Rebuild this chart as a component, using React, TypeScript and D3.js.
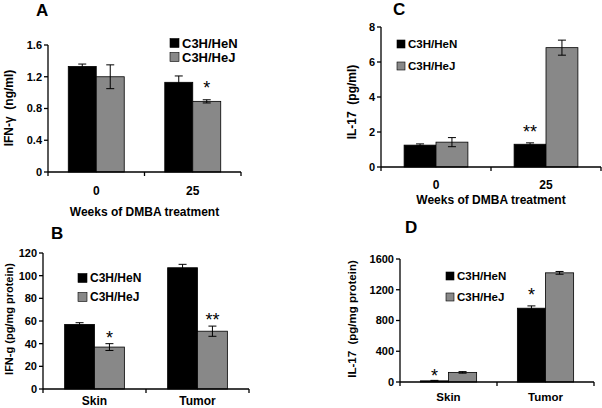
import React from "react";
import * as d3 from "d3";

const seriesNames = ["C3H/HeN", "C3H/HeJ"];
const seriesColors = ["#000000", "#888888"];

const weekCategories = ["0", "25"];
const tissueCategories = ["Skin", "Tumor"];

// Panel A: IFN-γ (ng/ml)
const aHeN = [1.33, 1.13];
const aHeJ = [1.2, 0.89];
const aHeNErr = [0.03, 0.08];
const aHeJErr = [0.15, 0.02];
const aTicks = [0, 0.4, 0.8, 1.2, 1.6];

// Panel C: IL-17 (pg/ml)
const cHeN = [1.25, 1.3];
const cHeJ = [1.42, 6.82];
const cHeNErr = [0.07, 0.08];
const cHeJErr = [0.26, 0.43];
const cTicks = [0, 2, 4, 6, 8];

// Panel B: IFN-g (pg/mg protein)
const bHeN = [57, 107];
const bHeJ = [37, 51];
const bHeNErr = [1.5, 3];
const bHeJErr = [3, 4.5];
const bTicks = [0, 20, 40, 60, 80, 100, 120];

// Panel D: IL-17 (pg/mg protein)
const dHeN = [15, 960];
const dHeJ = [125, 1420];
const dHeNErr = [6, 30];
const dHeJErr = [10, 18];
const dTicks = [0, 400, 800, 1200, 1600];

// significance marks: [category index, series index, label]
const aStars: [number, number, string][] = [[1, 1, "*"]];
const cStars: [number, number, string][] = [[1, 0, "**"]];
const bStars: [number, number, string][] = [[0, 1, "*"], [1, 1, "**"]];
const dStars: [number, number, string][] = [[0, 0, "*"], [1, 0, "*"]];

const FONT = "'Liberation Sans', Arial, Helvetica, sans-serif";

type PanelProps = {
  letter: string;
  letterX: number;
  letterY: number;
  left: number;
  right: number;
  top: number;
  bottom: number;
  categories: string[];
  values: number[][];
  errors: number[][];
  ticks: number[];
  tickFmt: (v: number) => string;
  yTitle: string;
  yTitleX: number;
  yTitleY: number;
  yTitleSize: number;
  xTitle?: string;
  xTitleY?: number;
  xLabelY: number;
  xLabelSize: number;
  legendX: number;
  legendY: number[];
  legendSize: number;
  legendSwatch: number;
  stars: [number, number, string][];
  starGaps: number[];
};

function Panel(p: PanelProps) {
  const yMax = p.ticks[p.ticks.length - 1];
  const y = d3.scaleLinear().domain([0, yMax]).range([p.bottom, p.top]);
  const xBand = d3.scaleBand<string>().domain(p.categories).range([p.left, p.right]).padding(0);
  const pairW = xBand.bandwidth() * 0.58;
  const inner = d3.scaleBand<number>().domain([0, 1]).range([0, pairW]).padding(0);
  const barX = (ci: number, si: number) =>
    (xBand(p.categories[ci]) as number) + (xBand.bandwidth() - pairW) / 2 + (inner(si) as number);
  const bw = inner.bandwidth();
  const cap = 4;
  const axisW = 1.3;

  const xTickPositions = [p.left, ...p.categories.slice(1).map((c) => xBand(c) as number), p.right];

  return (
    <g fontFamily={FONT} fontWeight="bold">
      <text x={p.letterX} y={p.letterY} fontSize={17}>{p.letter}</text>
      {p.values.map((vals, si) =>
        vals.map((v, ci) => (
          <rect
            key={`b${si}-${ci}`}
            x={barX(ci, si)}
            y={y(v)}
            width={bw}
            height={p.bottom - y(v)}
            fill={seriesColors[si]}
            stroke="#000"
            strokeWidth={0.8}
          />
        ))
      )}
      {p.values.map((vals, si) =>
        vals.map((v, ci) => {
          const cx = barX(ci, si) + bw / 2;
          const e = p.errors[si][ci];
          const y1 = y(v + e);
          const y0 = y(Math.max(0, v - e));
          return (
            <g key={`e${si}-${ci}`} stroke="#000" strokeWidth={1}>
              <line x1={cx} x2={cx} y1={y1} y2={y0} />
              <line x1={cx - cap} x2={cx + cap} y1={y1} y2={y1} />
              <line x1={cx - cap} x2={cx + cap} y1={y0} y2={y0} />
            </g>
          );
        })
      )}
      {p.stars.map(([ci, si, lab], i) => {
        const cx = barX(ci, si) + bw / 2;
        const top = y(p.values[si][ci] + p.errors[si][ci]);
        return (
          <text key={`s${i}`} x={cx} y={top - p.starGaps[i] + 9} fontSize={18} textAnchor="middle" fontWeight="normal">
            {lab}
          </text>
        );
      })}
      <line x1={p.left} x2={p.left} y1={p.top} y2={p.bottom} stroke="#000" strokeWidth={axisW} />
      {p.ticks.map((t) => (
        <g key={`t${t}`}>
          <line x1={p.left - 4} x2={p.left} y1={y(t)} y2={y(t)} stroke="#000" strokeWidth={axisW} />
          <text x={p.left - 6} y={y(t)} dy="0.36em" fontSize={11} textAnchor="end">
            {p.tickFmt(t)}
          </text>
        </g>
      ))}
      <line x1={p.left} x2={p.right} y1={p.bottom} y2={p.bottom} stroke="#000" strokeWidth={axisW} />
      {xTickPositions.map((xp, i) => (
        <line key={`xt${i}`} x1={xp} x2={xp} y1={p.bottom} y2={p.bottom + 4} stroke="#000" strokeWidth={axisW} />
      ))}
      {p.categories.map((c, ci) => (
        <text key={`xl${c}`} x={barX(ci, 0) + bw} y={p.xLabelY} fontSize={p.xLabelSize} textAnchor="middle">
          {c}
        </text>
      ))}
      {p.xTitle && (
        <text x={(p.left + p.right) / 2} y={p.xTitleY} fontSize={12} textAnchor="middle">
          {p.xTitle}
        </text>
      )}
      <text
        transform={`translate(${p.yTitleX},${p.yTitleY}) rotate(-90)`}
        fontSize={p.yTitleSize}
        textAnchor="middle"
        dy="0.36em"
        style={{ whiteSpace: "pre" }}
      >
        {p.yTitle}
      </text>
      {seriesNames.map((n, si) => (
        <g key={`l${n}`}>
          <rect
            x={p.legendX}
            y={p.legendY[si] - p.legendSwatch / 2}
            width={p.legendSwatch}
            height={p.legendSwatch}
            fill={seriesColors[si]}
            stroke="#000"
            strokeWidth={0.6}
          />
          <text x={p.legendX + p.legendSwatch + 3} y={p.legendY[si]} dy="0.36em" fontSize={p.legendSize}>
            {n}
          </text>
        </g>
      ))}
    </g>
  );
}

export default function App() {
  const fmt1 = (v: number) => (v === 0 ? "0" : d3.format(".1f")(v));
  const fmt0 = (v: number) => String(v);
  return (
    <svg width={602} height={408} style={{ position: "absolute", left: 0, top: 0, background: "#fff" }}>
      <rect width={602} height={408} fill="#fff" />
      <Panel
        letter="A" letterX={36} letterY={16}
        left={48} right={241} top={45} bottom={172}
        categories={weekCategories}
        values={[aHeN, aHeJ]} errors={[aHeNErr, aHeJErr]}
        ticks={aTicks} tickFmt={fmt1}
        yTitle={"IFN-\u03b3  (ng/ml)"} yTitleX={9} yTitleY={108} yTitleSize={12}
        xTitle="Weeks of DMBA treatment" xTitleY={216}
        xLabelY={195} xLabelSize={12}
        legendX={170} legendY={[43, 57]} legendSize={13} legendSwatch={9}
        stars={aStars} starGaps={[15]}
      />
      <Panel
        letter="C" letterX={393} letterY={15}
        left={381} right={601} top={27} bottom={167}
        categories={weekCategories}
        values={[cHeN, cHeJ]} errors={[cHeNErr, cHeJErr]}
        ticks={cTicks} tickFmt={fmt0}
        yTitle={"IL-17  (pg/ml)"} yTitleX={352} yTitleY={102} yTitleSize={12}
        xTitle="Weeks of DMBA treatment" xTitleY={204}
        xLabelY={189} xLabelSize={12}
        legendX={397} legendY={[44, 66]} legendSize={11.5} legendSwatch={8}
        stars={cStars} starGaps={[14]}
      />
      <Panel
        letter="B" letterX={51} letterY={239}
        left={43} right={249} top={253} bottom={389}
        categories={tissueCategories}
        values={[bHeN, bHeJ]} errors={[bHeNErr, bHeJErr]}
        ticks={bTicks} tickFmt={fmt0}
        yTitle="IFN-g (pg/mg protein)" yTitleX={9} yTitleY={319} yTitleSize={11}
        xLabelY={405} xLabelSize={12}
        legendX={78} legendY={[278, 297]} legendSize={12} legendSwatch={9}
        stars={bStars} starGaps={[9, 9]}
      />
      <Panel
        letter="D" letterX={405} letterY={233}
        left={400} right={594} top={259} bottom={382}
        categories={tissueCategories}
        values={[dHeN, dHeJ]} errors={[dHeNErr, dHeJErr]}
        ticks={dTicks} tickFmt={fmt0}
        yTitle={"IL-17  (pg/mg protein)"} yTitleX={352} yTitleY={319} yTitleSize={11.5}
        xLabelY={401} xLabelSize={11.5}
        legendX={446} legendY={[276, 297]} legendSize={11.5} legendSwatch={8}
        stars={dStars} starGaps={[7, 14]}
      />
    </svg>
  );
}
